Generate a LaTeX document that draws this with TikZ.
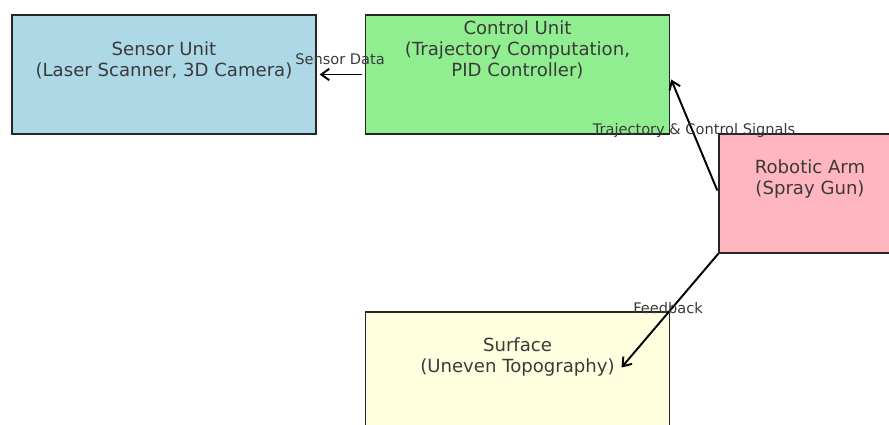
\documentclass[tikz,border=0pt]{standalone}
\usepackage{fontspec}
\setmainfont{DejaVu Sans}
\usetikzlibrary{calc,arrows.meta}

\definecolor{sensorblue}{HTML}{ADD8E6}
\definecolor{controlgreen}{HTML}{90EE90}
\definecolor{armpink}{HTML}{FFB6C1}
\definecolor{surfyellow}{HTML}{FFFFE0}
\definecolor{txtgray}{HTML}{3A3A3A}

\begin{document}
\begin{tikzpicture}[x=0.02cm,y=-0.02cm,
	>={Straight Barb[length=4.5pt,width=6.5pt]},
	unit/.style={draw=black!85,line width=0.8pt,minimum width=6.08cm,minimum height=2.38cm,inner sep=0},
	unittext/.style={anchor=south,align=center,inner sep=0,text=txtgray,font=\fontsize{10.3}{11.9}\selectfont},
	flow/.style={->,line width=1.1pt},
	flowlabel/.style={inner sep=0,text=txtgray,font=\fontsize{8.3}{9.6}\selectfont}]
\clip (0,0) rectangle (889,425);
% boxes
\node[unit,fill=sensorblue] (sensor) at (164,74.5) {};
\node[unit,fill=controlgreen] (ctrl) at (517.5,74.5) {};
\node[unit,fill=armpink,minimum width=3.64cm] (arm) at (810,193.5) {};
\node[unit,fill=surfyellow] (surface) at (517.5,371.5) {};
% texts
\node[unittext] (sensortxt) at ($(sensor.north)+(0,65)$) {Sensor Unit\\(Laser Scanner, 3D Camera)};
\node[unittext] (ctrltxt) at ($(ctrl.north)+(0,65)$) {Control Unit\\(Trajectory Computation,\\PID Controller)};
\node[unittext] (armtxt) at ($(arm.north)+(0,65)$) {Robotic Arm\\(Spray Gun)};
\node[unittext] (surfacetxt) at ($(surface.north)+(0,65)$) {Surface\\(Uneven Topography)};
% connectors
\coordinate (armout) at ($(arm.west)+(-1,-3)$);
\coordinate (ctrlin) at ($(ctrl.east)+(1,5)$);
\coordinate (fbend) at ($(surface.center)+(104,-4)$);
\draw[flow,shorten >=0.06cm,shorten <=0.06cm] (ctrl.west) -- (sensor.east);
\draw[flow] (armout) -- (ctrlin);
\draw[flow] (arm.south west) -- (fbend);
% labels
\node[flowlabel] (datalbl) at (340,59) {Sensor Data};
\node[flowlabel] (signallbl) at (694,130) {Trajectory \& Control Signals};
\node[flowlabel] (feedbacklbl) at (668,308) {Feedback};
\end{tikzpicture}
\end{document}
